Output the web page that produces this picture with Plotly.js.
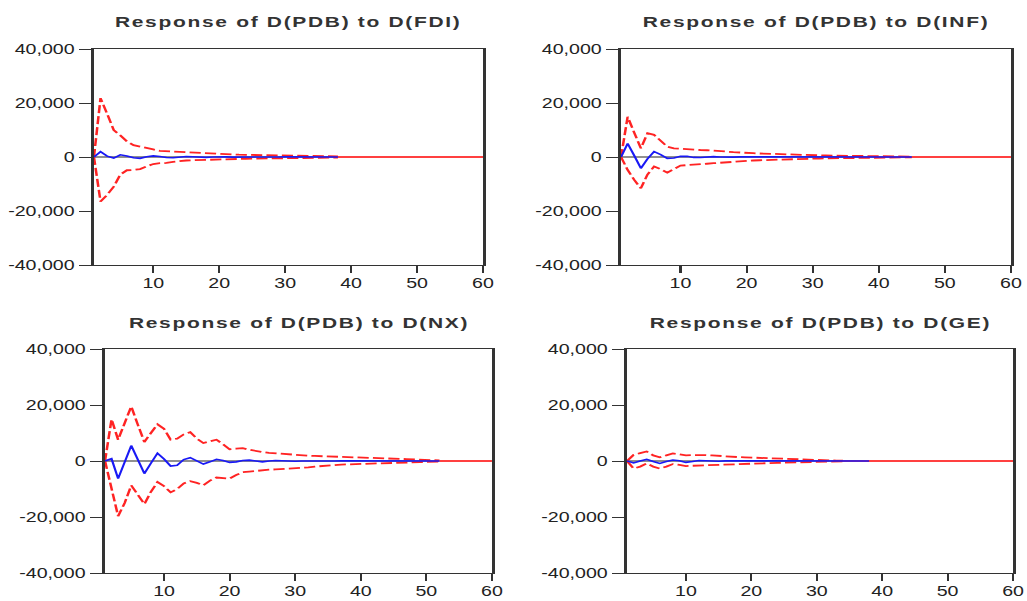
<!DOCTYPE html>
<html>
<head>
<meta charset="utf-8">
<script src="https://cdn.plot.ly/plotly-3.0.1.min.js"></script>
<style>
  html, body { margin: 0; padding: 0; background: #fff; overflow: hidden; }
  #chart { width: 734px; height: 601px; transform: scaleX(1.4); transform-origin: 0 0; }
  .annotation-text { letter-spacing: 1.2px; }
</style>
</head>
<body>
<div id="chart"></div>
<script>
// ---- Data ----
const panelTitles = [
  'Response of D(PDB) to D(FDI)',
  'Response of D(PDB) to D(INF)',
  'Response of D(PDB) to D(NX)',
  'Response of D(PDB) to D(GE)'
];

const xTickVals = [10, 20, 30, 40, 50, 60];
const xTickText = ['10', '20', '30', '40', '50', '60'];
const yTickVals = [-40000, -20000, 0, 20000, 40000];
const yTickText = ['-40,000', '-20,000', '0', '20,000', '40,000'];

// Response of D(PDB) to D(FDI)
const fdiResp  = [0, 2000, 300, -400, 800, 400, -300, -500, 100, 400, 200, -200, -300, 0, 200, 100, -100, -150, 0, 100, 50, -50, -80, 0, 50, 30, -30, -40, 0, 30, 20, -20, -20, 0, 10, 10, -10, 0];
const fdiUpper = [0, 21800, 16000, 10000, 8000, 5800, 4400, 3800, 3300, 2800, 2300, 2100, 2000, 1900, 1800, 1650, 1500, 1350, 1200, 1050, 950, 900, 850, 800, 750, 700, 650, 600, 550, 500, 450, 420, 400, 380, 350, 320, 300, 250];
const fdiLower = [0, -16500, -14000, -11000, -6500, -4900, -4800, -4500, -3500, -2600, -2300, -2200, -1800, -1500, -1300, -1200, -1100, -1000, -900, -850, -800, -750, -700, -650, -600, -550, -500, -480, -450, -420, -400, -380, -350, -320, -300, -280, -250, -200];

// Response of D(PDB) to D(INF)
const infResp  = [0, 5000, 500, -4200, -700, 2000, 900, -500, -400, 300, 250, -150, -200, 50, 150, 0, -100, -50, 60, 50, -30, -40, 10, 30, 0, -20, -10, 10, 10, 0, -10, -5, 5, 5, 0, 0, 0, 0, 0, 0, 0, 0, 0, 0, 0];
const infUpper = [0, 14900, 9000, 3200, 8800, 8200, 6000, 3800, 3200, 3000, 3000, 2800, 2600, 2500, 2400, 2200, 2000, 1800, 1600, 1500, 1400, 1300, 1200, 1100, 1000, 900, 850, 800, 700, 650, 600, 550, 500, 450, 420, 400, 370, 340, 300, 280, 250, 220, 200, 180, 150];
const infLower = [0, -4800, -8500, -11600, -6500, -3500, -4500, -5800, -4500, -3200, -3000, -2900, -2700, -2500, -2300, -2100, -1900, -1700, -1600, -1500, -1300, -1200, -1100, -1000, -900, -800, -750, -700, -650, -600, -550, -500, -450, -420, -400, -370, -340, -300, -280, -250, -220, -200, -180, -150, -120];

// Response of D(PDB) to D(NX)
const nxResp  = [0, 800, -6300, -500, 5500, 500, -4500, -800, 2800, 700, -1800, -1500, 500, 1200, 0, -1100, -300, 600, 200, -500, -300, 200, 300, -100, -300, 0, 200, 100, -100, -100, 0, 50, 50, -30, -40, 0, 30, 20, -20, -20, 0, 10, 10, -10, -5, 0, 5, 0, 0, 0, 0, 0];
const nxUpper = [0, 14900, 7600, 14000, 19500, 13000, 6800, 10000, 13100, 11500, 7600, 8000, 9500, 10300, 8000, 6400, 7000, 7600, 6000, 4200, 4400, 4600, 4000, 3500, 3200, 2900, 2700, 2500, 2300, 2200, 2000, 1900, 1800, 1700, 1600, 1500, 1500, 1400, 1400, 1300, 1200, 1100, 1000, 900, 800, 750, 700, 600, 500, 400, 300, 200];
const nxLower = [0, -10500, -19700, -15000, -8700, -12000, -15400, -11000, -7500, -9000, -11200, -10000, -8000, -7200, -7800, -8700, -7000, -5900, -6000, -6300, -5000, -4000, -3800, -3500, -3300, -3100, -3000, -2900, -2800, -2700, -2500, -2300, -2000, -1800, -1500, -1400, -1300, -1200, -1150, -1100, -1000, -900, -800, -700, -650, -600, -500, -450, -400, -300, -250, -200];

// Response of D(PDB) to D(GE)
const geResp  = [0, -700, 0, 600, -200, -850, -200, 360, 100, -500, -200, 150, 100, -100, -80, 50, 50, -30, -30, 20, 20, -10, -10, 10, 10, 0, 0, 0, 0, 0, 0, 0, 0, 0, 0, 0, 0, 0];
const geUpper = [0, 2200, 2800, 3400, 2000, 1300, 2000, 2700, 2400, 2000, 2100, 2200, 2100, 2000, 1800, 1700, 1500, 1400, 1300, 1200, 1100, 1000, 900, 800, 700, 600, 550, 500, 450, 400, 300, 200, 150, 100];
const geLower = [0, -2700, -2000, -900, -2000, -2700, -2000, -1100, -1400, -1800, -1700, -1600, -1500, -1500, -1400, -1300, -1200, -1100, -950, -850, -800, -750, -700, -650, -600, -550, -500, -450, -400, -350, -300, -250, -200, -100];

const xMin = 1, xMax = 60;

// ---- Build the chart ----
const series = [
  { resp: fdiResp, up: fdiUpper, lo: fdiLower },
  { resp: infResp, up: infUpper, lo: infLower },
  { resp: nxResp,  up: nxUpper,  lo: nxLower  },
  { resp: geResp,  up: geUpper,  lo: geLower  }
];

const W = 734, H = 601;
// plot-area pixel boxes (unscaled x, y from top)
const boxes = [
  { l: 67.1,  r: 345.0, t: 49,  b: 265 },
  { l: 443.6, r: 722.1, t: 49,  b: 265 },
  { l: 75.0,  r: 351.4, t: 349, b: 573 },
  { l: 447.9, r: 723.6, t: 349, b: 573 }
];
const titleY = [22, 22, 322, 322];

const periods = n => Array.from({ length: n }, (_, i) => i + 1);
const RED = 'rgb(255,35,35)';
const BLUE = 'rgb(25,25,245)';
const FONT = '"Liberation Sans", Arial, sans-serif';
const TXT = '#222';

const data = [];
const layout = {
  width: W, height: H,
  margin: { l: 0, r: 0, t: 0, b: 0 },
  paper_bgcolor: '#fff', plot_bgcolor: '#fff',
  showlegend: false,
  hovermode: false,
  font: { family: FONT, size: 14, color: TXT },
  shapes: [],
  annotations: []
};

series.forEach((s, i) => {
  const k = i === 0 ? '' : String(i + 1);
  const xa = 'x' + k, ya = 'y' + k;
  data.push({ x: periods(s.up.length), y: s.up, xaxis: xa, yaxis: ya, type: 'scatter', mode: 'lines',
              line: { color: RED, width: 1.8, dash: '8px,3px' } });
  data.push({ x: periods(s.lo.length), y: s.lo, xaxis: xa, yaxis: ya, type: 'scatter', mode: 'lines',
              line: { color: RED, width: 1.8, dash: '8px,3px' } });
  data.push({ x: periods(s.resp.length), y: s.resp, xaxis: xa, yaxis: ya, type: 'scatter', mode: 'lines',
              line: { color: BLUE, width: 1.6 } });

  const bx = boxes[i];
  layout['xaxis' + k] = {
    domain: [bx.l / W, bx.r / W], anchor: ya,
    range: [xMin, xMax],
    tickmode: 'array', tickvals: xTickVals, ticktext: xTickText,
    ticks: 'outside', ticklen: 7, tickwidth: 1.5, tickcolor: '#333',
    showline: true, linewidth: 1.3, linecolor: '#333', mirror: true,
    showgrid: false, zeroline: false, fixedrange: true,
    tickfont: { family: FONT, size: 14, color: TXT },
    ticklabelstandoff: -2
  };
  layout['yaxis' + k] = {
    domain: [1 - bx.b / H, 1 - bx.t / H], anchor: xa,
    range: [-40000, 40000],
    tickmode: 'array', tickvals: yTickVals, ticktext: yTickText,
    ticks: 'outside', ticklen: 9, tickwidth: 1, tickcolor: '#333',
    showline: true, linewidth: 2, linecolor: '#333', mirror: true,
    showgrid: false, zeroline: false, fixedrange: true,
    tickfont: { family: FONT, size: 14, color: TXT }
  };
  const end = s.up.length;
  layout.shapes.push({ type: 'line', xref: xa, yref: ya, x0: xMin, x1: end, y0: 0, y1: 0,
                       line: { color: '#222', width: 1 }, layer: 'below' });
  layout.shapes.push({ type: 'line', xref: xa, yref: ya, x0: end, x1: xMax, y0: 0, y1: 0,
                       line: { color: 'rgb(255,0,0)', width: 1.4 }, layer: 'below' });
  layout.annotations.push({
    text: '<b>' + panelTitles[i] + '</b>', xref: 'paper', yref: 'paper',
    x: (bx.l + bx.r) / 2 / W, y: 1 - titleY[i] / H,
    xanchor: 'center', yanchor: 'middle', showarrow: false,
    font: { family: FONT, size: 15, color: '#333' }
  });
});

Plotly.newPlot('chart', data, layout, { displayModeBar: false, staticPlot: true });
</script>
</body>
</html>
